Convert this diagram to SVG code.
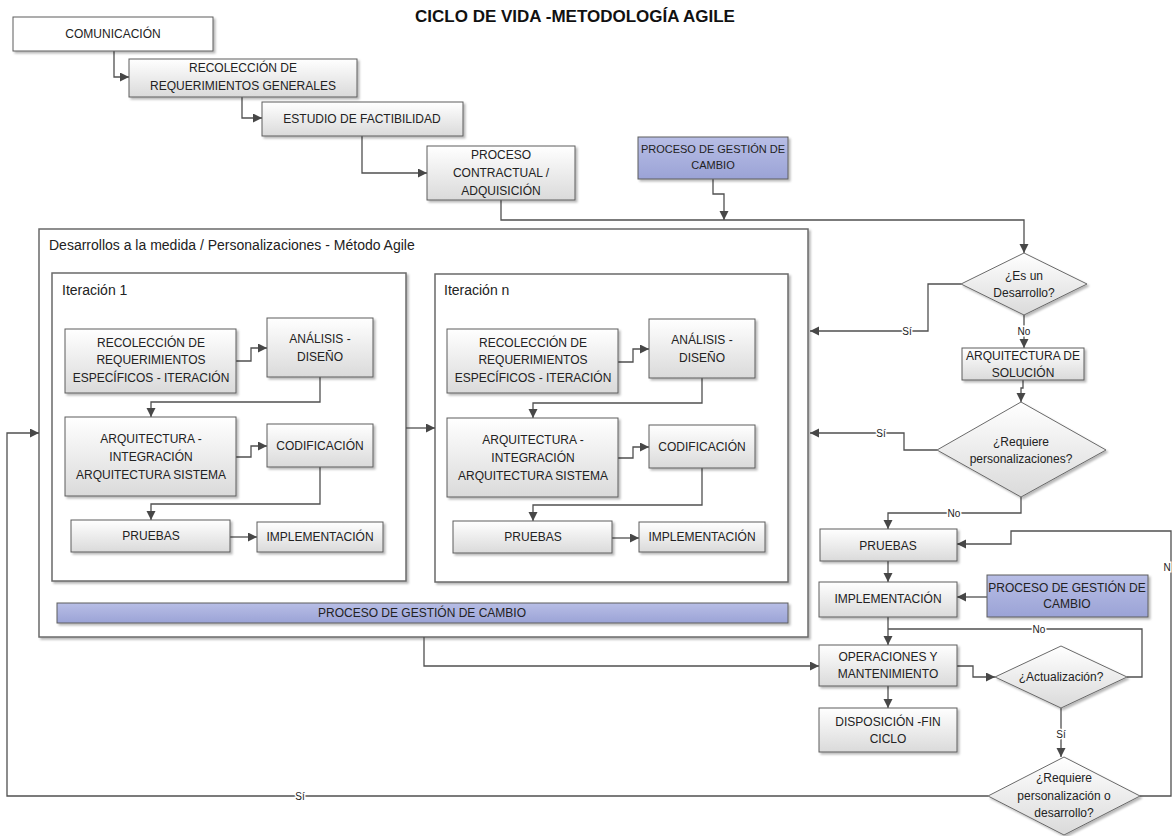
<svg xmlns="http://www.w3.org/2000/svg" width="1172" height="836" viewBox="0 0 1172 836">
  <defs>
    <linearGradient id="gGray" x1="0" y1="0" x2="0" y2="1">
      <stop offset="0" stop-color="#ffffff"/>
      <stop offset="1" stop-color="#dadada"/>
    </linearGradient>
    <linearGradient id="gBlue" x1="0" y1="0" x2="0" y2="1">
      <stop offset="0" stop-color="#b8bee6"/>
      <stop offset="1" stop-color="#9ba3d6"/>
    </linearGradient>
    <filter id="sh" x="-10%" y="-10%" width="130%" height="140%">
      <feDropShadow dx="2" dy="2" stdDeviation="1" flood-color="#000" flood-opacity="0.28"/>
    </filter>
    <marker id="ah" markerUnits="userSpaceOnUse" markerWidth="10" markerHeight="10" refX="9" refY="4.5" orient="auto">
      <path d="M0,0 L9,4.5 L0,9 z" fill="#474747"/>
    </marker>
    <style>
      .box { fill: url(#gGray); stroke: #5c5c5c; stroke-width: 1; filter: url(#sh); }
      .plain { fill: #ffffff; stroke: #5c5c5c; stroke-width: 1; filter: url(#sh); }
      .blue { fill: url(#gBlue); stroke: #5c5c5c; stroke-width: 1; filter: url(#sh); }
      .frame { fill: #ffffff; stroke: #6a6a6a; stroke-width: 1.5; filter: url(#sh); }
      .dia { fill: url(#gGray); stroke: #6a6a6a; stroke-width: 1; filter: url(#sh); }
      text { font-family: "Liberation Sans", Arial, sans-serif; fill: #222222; }
      .t { font-size: 12px; text-anchor: middle; }
      .s { font-size: 11px; }
      .title { font-size: 17px; font-weight: bold; text-anchor: middle; fill: #111111; }
      .head { font-size: 14px; }
      .lbl { font-size: 10px; text-anchor: middle; paint-order: stroke; stroke: #ffffff; stroke-width: 3px; }
      .wire { fill: none; stroke: #505050; stroke-width: 1.3; }
      .arr { marker-end: url(#ah); }
    </style>
  </defs>

  <rect width="1172" height="836" fill="#ffffff"/>

  <text class="title" x="575" y="22">CICLO DE VIDA -METODOLOGÍA AGILE</text>

  <!-- Containers -->
  <g id="agile-container">
    <rect class="frame" x="39" y="229" width="769" height="408"/>
    <text class="head" x="49" y="250">Desarrollos a la medida / Personalizaciones - Método Agile</text>
  </g>
  <g id="iteracion-1">
    <rect class="frame" x="52" y="273" width="354" height="308"/>
    <text class="head" x="62" y="295">Iteración 1</text>
  </g>
  <g id="iteracion-n">
    <rect class="frame" x="435" y="274" width="353" height="308"/>
    <text class="head" x="444" y="295">Iteración n</text>
  </g>
  <g id="gestion-cambio-barra">
    <rect class="blue" x="57" y="603" width="731" height="20"/>
    <text class="t" x="422" y="617">PROCESO DE GESTIÓN DE CAMBIO</text>
  </g>

  <!-- Connectors -->
  <g id="connectors">
    <path class="wire arr" d="M114,51 V77 H129"/>
    <path class="wire arr" d="M242,97 V118 H262"/>
    <path class="wire arr" d="M362,136 V173 H427"/>
    <path class="wire arr" d="M501,200 V220 H1024 V253"/>
    <path class="wire arr" d="M713,179 V194 H724 V220"/>
    <path class="wire arr" d="M961,284 H928 V331 H810"/>
    <path class="wire arr" d="M1024,315 V348"/>
    <path class="wire arr" d="M1023,380 V388 H1021 V402"/>
    <path class="wire arr" d="M937,450 H904 V433 H810"/>
    <path class="wire arr" d="M1021,497 V513 H888 V529"/>
    <path class="wire arr" d="M888,561 V582"/>
    <path class="wire arr" d="M987,597 H957"/>
    <path class="wire arr" d="M888,617 V645"/>
    <path class="wire arr" d="M957,666 H973 V677 H995"/>
    <path class="wire arr" d="M888,686 V708"/>
    <path class="wire" d="M1127,677 H1142 V629 H888"/>
    <path class="wire arr" d="M1061,708 V757"/>
    <path class="wire arr" d="M1140,796 H1171 V531 H1011 V544 H957"/>
    <path class="wire arr" d="M988,796 H7 V433 H39"/>
    <path class="wire arr" d="M424,637 V666 H819"/>
    <path class="wire arr" d="M406,428 H435"/>

    <!-- Iteración 1 -->
    <path class="wire arr" d="M236,361 H251 V348 H267"/>
    <path class="wire arr" d="M320,377 V402 H151 V417"/>
    <path class="wire arr" d="M236,457 H251 V446 H267"/>
    <path class="wire arr" d="M320,467 V504 H151 V520"/>
    <path class="wire arr" d="M230,537 H257"/>

    <!-- Iteración n -->
    <g transform="translate(382,1)">
      <path class="wire arr" d="M236,361 H251 V348 H267"/>
      <path class="wire arr" d="M320,377 V402 H151 V417"/>
      <path class="wire arr" d="M236,457 H251 V446 H267"/>
      <path class="wire arr" d="M320,467 V504 H151 V520"/>
      <path class="wire arr" d="M230,537 H257"/>
    </g>

    <text class="lbl" x="907" y="335">Sí</text>
    <text class="lbl" x="1024" y="335">No</text>
    <text class="lbl" x="881" y="437">Sí</text>
    <text class="lbl" x="954" y="517">No</text>
    <text class="lbl" x="1039" y="633">No</text>
    <text class="lbl" x="1061" y="738">Sí</text>
    <text class="lbl" x="1167" y="571">N</text>
    <text class="lbl" x="300" y="800">Sí</text>
  </g>

  <!-- Waterfall start -->
  <g id="comunicacion">
    <rect class="plain" x="13" y="17" width="200" height="34"/>
    <text class="t" x="113" y="38">COMUNICACIÓN</text>
  </g>
  <g id="recoleccion-generales">
    <rect class="box" x="129" y="59" width="228" height="38"/>
    <text class="t" x="243" y="72">RECOLECCIÓN DE</text>
    <text class="t" x="243" y="90">REQUERIMIENTOS GENERALES</text>
  </g>
  <g id="estudio-factibilidad">
    <rect class="box" x="262" y="102" width="201" height="34"/>
    <text class="t" x="362" y="123">ESTUDIO DE FACTIBILIDAD</text>
  </g>
  <g id="proceso-contractual">
    <rect class="box" x="427" y="146" width="148" height="54"/>
    <text class="t" x="501" y="159">PROCESO</text>
    <text class="t" x="501" y="177">CONTRACTUAL /</text>
    <text class="t" x="501" y="195">ADQUISICIÓN</text>
  </g>
  <g id="gestion-cambio-1">
    <rect class="blue" x="638" y="137" width="150" height="42"/>
    <text class="t s" x="713" y="153">PROCESO DE GESTIÓN DE</text>
    <text class="t s" x="713" y="169">CAMBIO</text>
  </g>

  <!-- Iteración 1 nodes -->
  <g id="it1-recoleccion">
    <rect class="box" x="65" y="329" width="171" height="64"/>
    <text class="t" x="151" y="347">RECOLECCIÓN DE</text>
    <text class="t" x="151" y="364">REQUERIMIENTOS</text>
    <text class="t" x="151" y="382">ESPECÍFICOS - ITERACIÓN</text>
  </g>
  <g id="it1-analisis">
    <rect class="box" x="267" y="318" width="106" height="59"/>
    <text class="t" x="320" y="343">ANÁLISIS -</text>
    <text class="t" x="320" y="361">DISEÑO</text>
  </g>
  <g id="it1-arquitectura">
    <rect class="box" x="65" y="417" width="171" height="79"/>
    <text class="t" x="151" y="443">ARQUITECTURA -</text>
    <text class="t" x="151" y="461">INTEGRACIÓN</text>
    <text class="t" x="151" y="479">ARQUITECTURA SISTEMA</text>
  </g>
  <g id="it1-codificacion">
    <rect class="box" x="267" y="424" width="106" height="43"/>
    <text class="t" x="320" y="450">CODIFICACIÓN</text>
  </g>
  <g id="it1-pruebas">
    <rect class="box" x="71" y="520" width="159" height="32"/>
    <text class="t" x="151" y="540">PRUEBAS</text>
  </g>
  <g id="it1-implementacion">
    <rect class="box" x="257" y="522" width="126" height="30"/>
    <text class="t" x="320" y="541">IMPLEMENTACIÓN</text>
  </g>

  <!-- Iteración n nodes -->
  <g id="itn-recoleccion" transform="translate(382,0)">
    <rect class="box" x="65" y="329" width="171" height="64"/>
    <text class="t" x="151" y="347">RECOLECCIÓN DE</text>
    <text class="t" x="151" y="364">REQUERIMIENTOS</text>
    <text class="t" x="151" y="382">ESPECÍFICOS - ITERACIÓN</text>
  </g>
  <g id="itn-analisis" transform="translate(382,1)">
    <rect class="box" x="267" y="318" width="106" height="59"/>
    <text class="t" x="320" y="343">ANÁLISIS -</text>
    <text class="t" x="320" y="361">DISEÑO</text>
  </g>
  <g id="itn-arquitectura" transform="translate(382,1)">
    <rect class="box" x="65" y="417" width="171" height="79"/>
    <text class="t" x="151" y="443">ARQUITECTURA -</text>
    <text class="t" x="151" y="461">INTEGRACIÓN</text>
    <text class="t" x="151" y="479">ARQUITECTURA SISTEMA</text>
  </g>
  <g id="itn-codificacion" transform="translate(382,1)">
    <rect class="box" x="267" y="424" width="106" height="43"/>
    <text class="t" x="320" y="450">CODIFICACIÓN</text>
  </g>
  <g id="itn-pruebas" transform="translate(382,1)">
    <rect class="box" x="71" y="520" width="159" height="32"/>
    <text class="t" x="151" y="540">PRUEBAS</text>
  </g>
  <g id="itn-implementacion" transform="translate(382,0)">
    <rect class="box" x="257" y="522" width="126" height="30"/>
    <text class="t" x="320" y="541">IMPLEMENTACIÓN</text>
  </g>

  <!-- Right-hand flow -->
  <g id="es-desarrollo">
    <polygon class="dia" points="1024,253 1087,284 1024,315 961,284"/>
    <text class="t" x="1024" y="280">¿Es un</text>
    <text class="t" x="1024" y="297">Desarrollo?</text>
  </g>
  <g id="arquitectura-solucion">
    <rect class="box" x="962" y="348" width="122" height="32"/>
    <text class="t" x="1023" y="360">ARQUITECTURA DE</text>
    <text class="t" x="1023" y="377">SOLUCIÓN</text>
  </g>
  <g id="requiere-personalizaciones">
    <polygon class="dia" points="1021,402 1106,450 1021,497 937,450"/>
    <text class="t" x="1021" y="446">¿Requiere</text>
    <text class="t" x="1021" y="463">personalizaciones?</text>
  </g>
  <g id="pruebas">
    <rect class="box" x="820" y="529" width="137" height="32"/>
    <text class="t" x="888" y="550">PRUEBAS</text>
  </g>
  <g id="implementacion">
    <rect class="box" x="819" y="582" width="138" height="35"/>
    <text class="t" x="888" y="603">IMPLEMENTACIÓN</text>
  </g>
  <g id="gestion-cambio-2">
    <rect class="blue" x="987" y="575" width="161" height="42"/>
    <text class="t" x="1067" y="592">PROCESO DE GESTIÓN DE</text>
    <text class="t" x="1067" y="608">CAMBIO</text>
  </g>
  <g id="operaciones">
    <rect class="box" x="819" y="645" width="138" height="41"/>
    <text class="t" x="888" y="661">OPERACIONES Y</text>
    <text class="t" x="888" y="678">MANTENIMIENTO</text>
  </g>
  <g id="actualizacion">
    <polygon class="dia" points="1061,646 1127,677 1061,708 995,677"/>
    <text class="t" x="1061" y="681">¿Actualización?</text>
  </g>
  <g id="disposicion">
    <rect class="box" x="819" y="708" width="138" height="44"/>
    <text class="t" x="888" y="726">DISPOSICIÓN -FIN</text>
    <text class="t" x="888" y="743">CICLO</text>
  </g>
  <g id="requiere-personalizacion-desarrollo">
    <polygon class="dia" points="1064,757 1140,796 1064,835 988,796"/>
    <text class="t" x="1064" y="782">¿Requiere</text>
    <text class="t" x="1064" y="800">personalización o</text>
    <text class="t" x="1064" y="817">desarrollo?</text>
  </g>
</svg>
